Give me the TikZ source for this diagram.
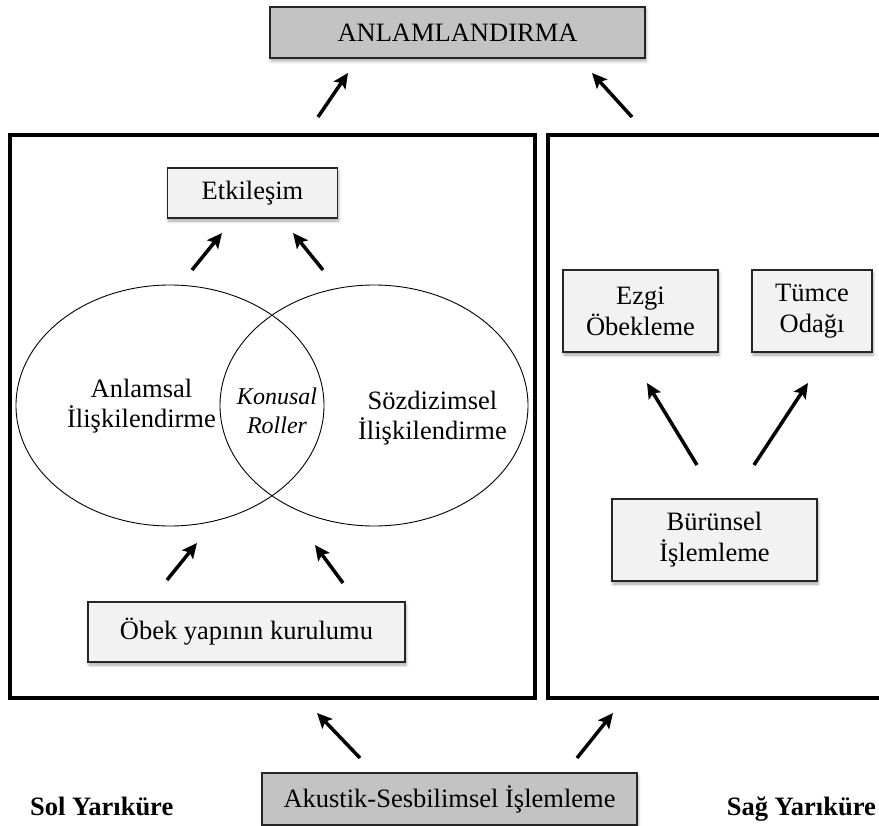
\documentclass[tikz,border=0pt]{standalone}
\usepackage{fontspec}
\setmainfont{Liberation Serif}
\usetikzlibrary{shapes.geometric,arrows.meta,shadows.blur}
\definecolor{boxfill}{HTML}{F2F2F2}
\definecolor{darkfill}{HTML}{C3C3C3}
\begin{document}
\begin{tikzpicture}[x=1pt,y=-1pt,
  box/.style={draw=black!85, line width=1.4pt, fill=boxfill, inner sep=0pt, align=center,
    font=\fontsize{26.5}{31}\selectfont,
    blur shadow={shadow xshift=1pt, shadow yshift=-3pt, shadow blur radius=3pt, shadow opacity=35}},
  darkbox/.style={box, fill=darkfill},
  panel/.style={draw=black, line width=3.5pt},
  venn/.style={draw=black, line width=0.9pt, ellipse, inner sep=0pt, minimum width=308pt, minimum height=241pt},
  arr/.style={line width=3.5pt, -{Stealth[length=15pt,width=14pt,inset=3pt]}},
  lbl/.style={align=center, inner sep=0pt, font=\fontsize{26.5}{30}\selectfont},
  ilbl/.style={align=center, inner sep=0pt, font=\fontsize{24}{29}\selectfont\itshape},
  blbl/.style={inner sep=0pt, font=\fontsize{26.5}{30}\selectfont\bfseries},
  ]
\useasboundingbox (0,0) rectangle (879,826);
\clip (0,0) rectangle (879,826);

% panels
\draw[panel] (10,135) rectangle (535,698);
\draw[panel] (548,135) rectangle (900,698);

% boxes
\node[darkbox, minimum width=375pt, minimum height=51pt] (anl) at (457.5,32.5) {ANLAMLANDIRMA};
\node[box, minimum width=170pt, minimum height=50pt] (etk) at (252.5,193) {Etkileşim};
\node[box, minimum width=317pt, minimum height=60pt] (obek) at (246.5,632) {Öbek yapının kurulumu};
\node[box, minimum width=155pt, minimum height=82pt] (ezgi) at (640.5,311) {Ezgi\\Öbekleme};
\node[box, minimum width=120pt, minimum height=82pt] (tumce) at (812,311) {Tümce\\Odağı};
\node[box, minimum width=205pt, minimum height=82pt] (burun) at (714.5,540) {Bürünsel\\İşlemleme};
\node[darkbox, minimum width=375pt, minimum height=52pt] (akus) at (449.5,799) {Akustik-Sesbilimsel İşlemleme};

% venn
\node[venn] (ellA) at (170,405.5) {};
\node[venn] (ellS) at (374,405.5) {};
\node[lbl] (tA) at (141.5,406) {Anlamsal\\İlişkilendirme};
\node[lbl] (tS) at (432.5,418) {Sözdizimsel\\İlişkilendirme};
\node[ilbl] (tK) at (277,411) {Konusal\\Roller};

% hemisphere labels
\node[blbl, anchor=base west] (sol) at (30,815) {Sol Yarıküre};
\node[blbl, anchor=base east] (sag) at (876,815) {Sağ Yarıküre};

% arrow end points
\coordinate (t1s) at (318,117); \coordinate (t1e) at (348,73);
\coordinate (t2s) at (632,117); \coordinate (t2e) at (592,73);
\coordinate (e1s) at (192,270); \coordinate (e1e) at (222,233);
\coordinate (e2s) at (323,270); \coordinate (e2e) at (293,233);
\coordinate (o1s) at (167,580); \coordinate (o1e) at (197,543);
\coordinate (o2s) at (343,583); \coordinate (o2e) at (315,545);
\coordinate (r1s) at (697,465); \coordinate (r1e) at (647,383);
\coordinate (r2s) at (754,465); \coordinate (r2e) at (808,383);
\coordinate (b1s) at (360,758); \coordinate (b1e) at (317,713);
\coordinate (b2s) at (577,758); \coordinate (b2e) at (613,713);

\foreach \a in {t1,t2,e1,e2,o1,o2,r1,r2,b1,b2}
  \draw[arr] (\a s) -- (\a e);
\end{tikzpicture}
\end{document}
